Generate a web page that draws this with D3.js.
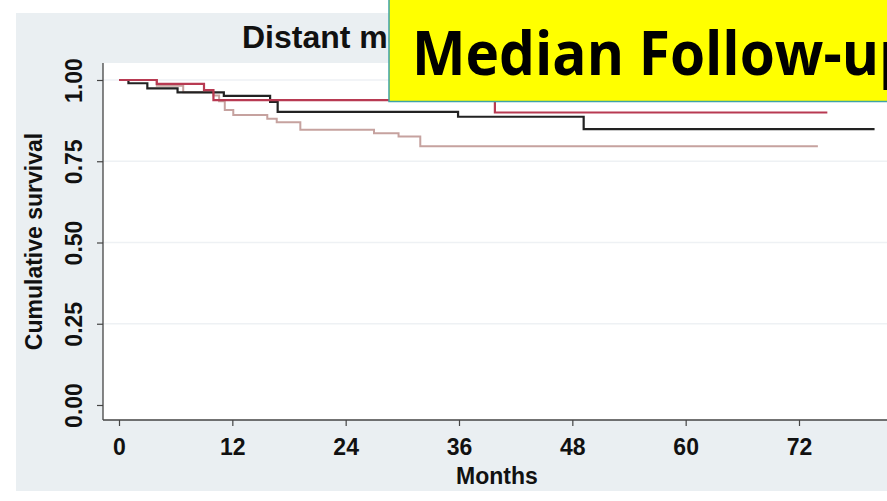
<!DOCTYPE html>
<html>
<head>
<meta charset="utf-8">
<script src="https://cdn.jsdelivr.net/npm/d3@7"></script>
<style>
  html, body { margin: 0; padding: 0; background: #fff; }
  svg { display: block; }
</style>
</head>
<body>
<div id="chart"></div>
<script>
// ---- Data ----
const xTicks = [0, 12, 24, 36, 48, 60, 72];
const yTicks = [0, 0.25, 0.5, 0.75, 1.0];

// Kaplan-Meier step curves: event times (months) and survival after each step
const lightTimes = [0, 4.0, 6.8, 10.0, 10.6, 11.2, 12.1, 15.7, 16.7, 19.2, 27.0, 29.6, 31.9];
const lightSurv  = [1.0, 0.982, 0.962, 0.952, 0.935, 0.908, 0.892, 0.881, 0.870, 0.847, 0.836, 0.826, 0.796];
const lightEnd = 74.0;

const blackTimes = [0, 1.0, 3.0, 6.2, 11.1, 16.0, 16.8, 35.9, 49.2];
const blackSurv  = [1.0, 0.990, 0.974, 0.962, 0.951, 0.933, 0.902, 0.887, 0.849];
const blackEnd = 80.0;

const redTimes = [0, 4.0, 9.0, 10.0, 39.8];
const redSurv  = [1.0, 0.988, 0.969, 0.938, 0.900];
const redEnd = 75.0;

const titleText = "Distant metastasis";
const overlayText = "Median Follow-up";
const xLabel = "Months";
const yLabel = "Cumulative survival";

// ---- Layout ----
const W = 887, H = 501;
const plot = { left: 103, top: 63, right: 887, bottom: 420 };

const svg = d3.select("#chart").append("svg")
  .attr("width", W).attr("height", H);

svg.append("rect").attr("width", W).attr("height", H).attr("fill", "#ffffff");
// outer graph region (light grey-blue)
svg.append("rect").attr("x", 16).attr("y", 13).attr("width", W - 16 + 5).attr("height", 478)
  .attr("fill", "#eaeff2");
// plot region
svg.append("rect").attr("x", plot.left).attr("y", plot.top)
  .attr("width", plot.right - plot.left + 5).attr("height", plot.bottom - plot.top)
  .attr("fill", "#ffffff");

const x = d3.scaleLinear().domain([0, 72]).range([119, 799]);
const y = d3.scaleLinear().domain([0, 1]).range([405, 80]);

// gridlines
svg.append("g").selectAll("line").data(yTicks.filter(d => d > 0)).join("line")
  .attr("x1", plot.left).attr("x2", W)
  .attr("y1", d => y(d)).attr("y2", d => y(d))
  .attr("stroke", "#eef1f4").attr("stroke-width", 1.5);

// clips
const defs = svg.append("defs");
defs.append("clipPath").attr("id", "clip").append("rect")
  .attr("x", plot.left).attr("y", plot.top)
  .attr("width", plot.right - plot.left).attr("height", plot.bottom - plot.top);
defs.append("clipPath").attr("id", "titleclip").append("rect")
  .attr("x", 0).attr("y", 0).attr("width", 389).attr("height", 60);

function series(times, surv, end) {
  const pts = times.map((t, i) => [t, surv[i]]);
  pts.push([end, surv[surv.length - 1]]);
  return pts;
}
const line = d3.line().x(d => x(d[0])).y(d => y(d[1])).curve(d3.curveStepAfter);

const curves = svg.append("g").attr("clip-path", "url(#clip)").attr("fill", "none");
curves.append("path").datum(series(lightTimes, lightSurv, lightEnd))
  .attr("d", line).attr("stroke", "#c6a29f").attr("stroke-width", 2);
curves.append("path").datum(series(blackTimes, blackSurv, blackEnd))
  .attr("d", line).attr("stroke", "#222222").attr("stroke-width", 2.2);
curves.append("path").datum(series(redTimes, redSurv, redEnd))
  .attr("d", line).attr("stroke", "#b83a52").attr("stroke-width", 2.2);

// axes
const font = "'Liberation Sans', Arial, sans-serif";
const yAxis = svg.append("g").attr("transform", `translate(${plot.left},0)`)
  .call(d3.axisLeft(y).tickValues(yTicks).tickFormat(d3.format(".2f")).tickSize(6).tickPadding(0));
yAxis.select(".domain").remove();
yAxis.selectAll(".tick line").attr("stroke", "#444").attr("stroke-width", 1.2);
yAxis.selectAll(".tick text")
  .attr("x", 0).attr("dy", null).attr("y", 0)
  .attr("text-anchor", "middle")
  .attr("transform", "translate(-21,0) rotate(-90)")
  .attr("font-family", font).attr("font-size", 23).attr("font-weight", "bold")
  .attr("fill", "#111");

const xAxis = svg.append("g").attr("transform", `translate(0,${plot.bottom})`)
  .call(d3.axisBottom(x).tickValues(xTicks).tickFormat(d3.format("d")).tickSize(6).tickPadding(0));
xAxis.select(".domain").remove();
xAxis.selectAll(".tick line").attr("stroke", "#444").attr("stroke-width", 1.2);
xAxis.selectAll(".tick text")
  .attr("dy", null).attr("y", 35)
  .attr("font-family", font).attr("font-size", 23).attr("font-weight", "bold")
  .attr("fill", "#111");

// axis lines
svg.append("line").attr("x1", plot.left).attr("x2", plot.left)
  .attr("y1", plot.top).attr("y2", plot.bottom).attr("stroke", "#444").attr("stroke-width", 1.3);
svg.append("line").attr("x1", plot.left).attr("x2", W)
  .attr("y1", plot.bottom).attr("y2", plot.bottom).attr("stroke", "#444").attr("stroke-width", 1.3);

// axis titles
svg.append("text").attr("x", 497).attr("y", 484).attr("text-anchor", "middle")
  .attr("font-family", font).attr("font-size", 23).attr("font-weight", "bold")
  .attr("fill", "#111").text(xLabel);
svg.append("text").attr("transform", `translate(42,${(plot.top + plot.bottom) / 2}) rotate(-90)`)
  .attr("text-anchor", "middle")
  .attr("font-family", font).attr("font-size", 23).attr("font-weight", "bold")
  .attr("fill", "#111").text(yLabel);

// title (partly hidden behind the overlay box, as in the reference)
svg.append("g").attr("clip-path", "url(#titleclip)")
  .append("text").attr("x", 242).attr("y", 48)
  .attr("font-family", font).attr("font-size", 32).attr("font-weight", "bold")
  .attr("fill", "#111")
  .text(titleText);

// yellow overlay box
svg.append("rect").attr("x", 389).attr("y", -3).attr("width", 520).attr("height", 104.5)
  .attr("fill", "#ffff00").attr("stroke", "#3fa3a6").attr("stroke-width", 1.5);
svg.append("text").attr("x", 412).attr("y", 75)
  .attr("font-family", "'Open Sans', 'Noto Sans', sans-serif").attr("font-size", 60).attr("font-weight", "bold")
  .attr("textLength", 503).attr("lengthAdjust", "spacingAndGlyphs")
  .attr("fill", "#000").text(overlayText);
</script>
</body>
</html>
